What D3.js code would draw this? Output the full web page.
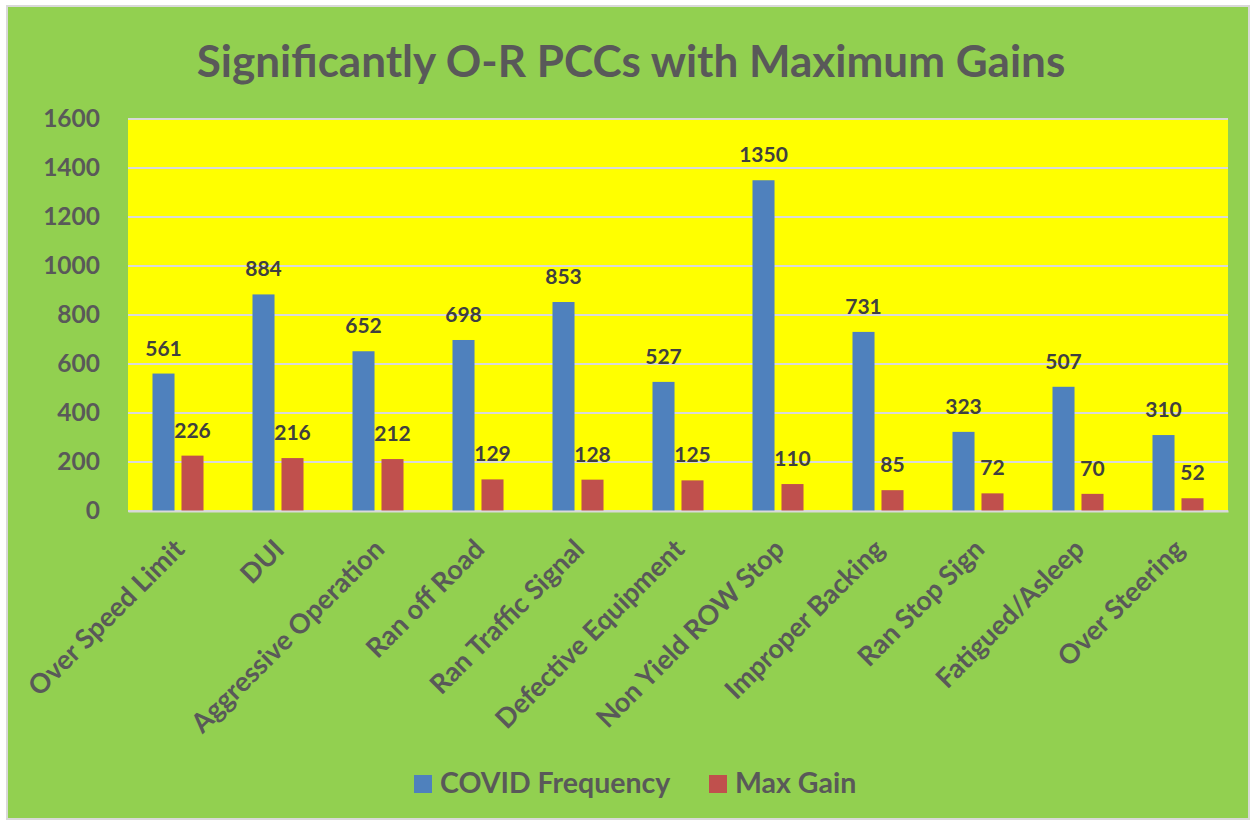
<!DOCTYPE html>
<html>
<head>
<meta charset="utf-8">
<script src="https://cdn.jsdelivr.net/npm/d3@7"></script>
<style>
  body { margin: 0; background: #ffffff; }
  svg text { font-family: Lato, "Open Sans", sans-serif; font-weight: bold; }
</style>
</head>
<body>
<div id="chart"></div>
<script>
// chart data
var categories = ["Over Speed Limit", "DUI", "Aggressive Operation", "Ran off Road",
    "Ran Traffic Signal", "Defective Equipment", "Non Yield ROW Stop", "Improper Backing",
    "Ran Stop Sign", "Fatigued/Asleep", "Over Steering"];
var covidFrequency = [561, 884, 652, 698, 853, 527, 1350, 731, 323, 507, 310];
var maxGain = [226, 216, 212, 129, 128, 125, 110, 85, 72, 70, 52];
var seriesNames = ["COVID Frequency", "Max Gain"];
var yTicks = [0, 200, 400, 600, 800, 1000, 1200, 1400, 1600];

var W = 1253, H = 823;
var plot = {left: 128, right: 1228, top: 119, bottom: 511};
var colors = ["#4F81BD", "#C0504D"];

var svg = d3.select("#chart").append("svg")
    .attr("width", W)
    .attr("height", H);

// chart background + border
svg.append("rect")
    .attr("x", 7).attr("y", 6)
    .attr("width", 1242).attr("height", 813)
    .attr("fill", "#92D050")
    .attr("stroke", "#D9D9D9")
    .attr("stroke-width", 2);

// title
svg.append("text")
    .attr("x", 631).attr("y", 77)
    .attr("text-anchor", "middle")
    .attr("fill", "#595959")
    .style("font-size", "44px")
    .text("Significantly O-R PCCs with Maximum Gains");

var x = d3.scaleBand()
    .domain(categories)
    .range([plot.left, plot.right]);

// two bars of ~22px with a small gap, centred in each category
var x1 = d3.scaleBand()
    .domain(seriesNames)
    .range([0, x.bandwidth()])
    .paddingInner(0.24)
    .paddingOuter(0.845);

var y = d3.scaleLinear()
    .domain([0, 1600])
    .range([plot.bottom, plot.top]);

// plot area
svg.append("rect")
    .attr("x", plot.left).attr("y", plot.top)
    .attr("width", plot.right - plot.left)
    .attr("height", plot.bottom - plot.top)
    .attr("fill", "#FFFF00");

// gridlines
svg.append("g").selectAll("line")
    .data(yTicks)
    .enter()
    .append("line")
    .attr("x1", plot.left).attr("x2", plot.right)
    .attr("y1", function(d) { return y(d); })
    .attr("y2", function(d) { return y(d); })
    .attr("stroke", "#D9D9D9")
    .attr("stroke-width", 2);

// y axis labels
var yAxis = d3.axisLeft(y).tickValues(yTicks).tickFormat(d3.format("d"))
    .tickSize(0).tickPadding(28);
var yG = svg.append("g")
    .attr("transform", "translate(" + plot.left + ",0)")
    .call(yAxis);
yG.select(".domain").remove();
yG.selectAll("text")
    .attr("fill", "#595959")
    .style("font-size", "24.5px")
    .style("font-family", "Lato, sans-serif")
    .style("font-weight", "bold");

// bars
var series = [covidFrequency, maxGain];
var groups = svg.append("g").selectAll("g")
    .data(categories)
    .enter()
    .append("g")
    .attr("transform", function(d) { return "translate(" + x(d) + ",0)"; });

seriesNames.forEach(function(name, si) {
    groups.append("rect")
        .attr("x", x1(name))
        .attr("y", function(d, i) { return y(series[si][i]); })
        .attr("width", x1.bandwidth())
        .attr("height", function(d, i) { return y(0) - y(series[si][i]); })
        .attr("fill", colors[si]);

    groups.append("text")
        .attr("x", x1(name) + x1.bandwidth() / 2)
        .attr("y", function(d, i) { return y(series[si][i]) - 18; })
        .attr("text-anchor", "middle")
        .attr("fill", "#404040")
        .style("font-size", "21px")
        .text(function(d, i) { return series[si][i]; });
});

// x axis labels, rotated
var xAxis = d3.axisBottom(x).tickSize(0).tickPadding(0);
var xG = svg.append("g")
    .attr("transform", "translate(0," + plot.bottom + ")")
    .call(xAxis);
xG.select(".domain")
    .attr("stroke", "#D9D9D9")
    .attr("stroke-width", 2);
xG.selectAll("text")
    .attr("fill", "#595959")
    .style("font-size", "27px")
    .style("font-family", "Lato, sans-serif")
    .style("font-weight", "bold")
    .attr("text-anchor", "end")
    .attr("dy", "0")
    .attr("transform", "translate(8,40) rotate(-45)");

// legend
var legendX = [414, 709];
var legend = svg.append("g").selectAll("g")
    .data(seriesNames)
    .enter()
    .append("g")
    .attr("transform", function(d, i) { return "translate(" + legendX[i] + ",775)"; });
legend.append("rect")
    .attr("width", 18).attr("height", 18)
    .attr("fill", function(d, i) { return colors[i]; });
legend.append("text")
    .attr("x", 26).attr("y", 18)
    .attr("fill", "#595959")
    .style("font-size", "28.5px")
    .text(function(d) { return d; });
</script>
</body>
</html>
